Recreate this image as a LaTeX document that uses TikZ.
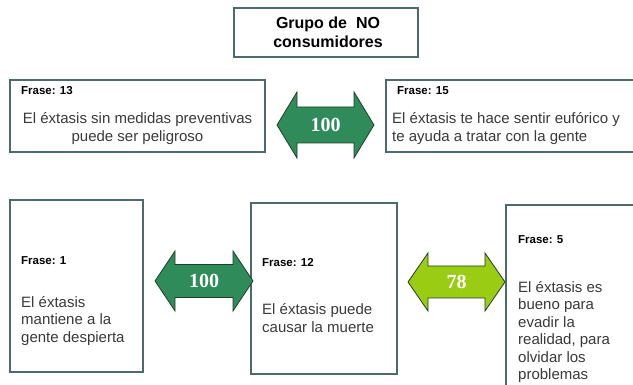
\documentclass[tikz,border=0pt]{standalone}
\usepackage{fontspec}
\setmainfont{Liberation Sans}
\newfontfamily\numfont{Liberation Serif}
\definecolor{boxline}{HTML}{4E6A6A}
\definecolor{arrowdark}{HTML}{2F8B5A}
\definecolor{arrowlime}{HTML}{9ACC14}
\definecolor{arrowedge}{HTML}{1F3F2A}
\definecolor{textgray}{HTML}{3A3A3A}

\begin{document}
\begin{tikzpicture}[x=1pt,y=-1pt,
    frase/.style={draw=boxline, line width=1.3pt, fill=white},
    tag/.style={font=\bfseries\fontsize{11.5}{13}\selectfont, anchor=west, inner sep=0pt},
    body/.style={font=\fontsize{15}{17.5}\selectfont, text=textgray, inner sep=0pt},
    num/.style={font=\numfont\bfseries\fontsize{20}{20}\selectfont, text=white, inner sep=0pt}]
    \useasboundingbox (0,0) rectangle (633,385);
    \clip (0,0) rectangle (633,385);

    % title
    \draw[frase, line width=1.5pt] (234,8) rectangle (418,57);
    \node[font=\bfseries\fontsize{16}{19}\selectfont, align=center] (title) at (328,32.5) {Grupo de\ \ NO\\consumidores};

    % top row
    \draw[frase] (10,80) rectangle (265,152);
    \node[tag] (t13) at (21,91) {Frase: 13};
    \node[body, align=center] (f13) at (137.5,128.5) {El éxtasis sin medidas preventivas\\puede ser peligroso};

    \draw[frase] (386,80) rectangle (660,152);
    \node[tag] (t15) at (397,91) {Frase: 15};
    \node[body, align=left, anchor=west] (f15) at (392,128.5) {El éxtasis te hace sentir eufórico y\\te ayuda a tratar con la gente};

    \filldraw[fill=arrowdark, draw=arrowedge, line width=0.8pt] (277,125) -- (297,92) -- (297,107) -- (354,107)
        -- (354,92) -- (374,125) -- (354,158) -- (354,143) -- (297,143) -- (297,158) -- cycle;
    \node[num] (a1) at (325.5,125) {100};

    % bottom row
    \draw[frase] (10,200) rectangle (143,372);
    \node[tag] (t1) at (21,261) {Frase: 1};
    \node[body, align=left, anchor=west] (f1) at (21,321) {El éxtasis\\mantiene a la\\gente despierta};

    \draw[frase] (251,203) rectangle (397,374);
    \node[tag] (t12) at (262,263) {Frase: 12};
    \node[body, align=left, anchor=west] (f12) at (262,318) {El éxtasis puede\\causar la muerte};

    \draw[frase] (506,205) rectangle (660,400);
    \node[tag] (t5) at (518,240) {Frase: 5};
    \node[body, align=left, anchor=north west] (f5) at (518,281) {El éxtasis es\\bueno para\\evadir la\\realidad, para\\olvidar los\\problemas};

    \filldraw[fill=arrowdark, draw=arrowedge, line width=0.8pt] (155,281) -- (175,251) -- (175,264.5) -- (233,264.5)
        -- (233,251) -- (253,281) -- (233,311) -- (233,297.5) -- (175,297.5) -- (175,311) -- cycle;
    \node[num] (a2) at (204,281) {100};

    \filldraw[fill=arrowlime, draw=arrowedge, line width=0.8pt] (408,282) -- (428,253) -- (428,266) -- (485,266)
        -- (485,253) -- (505,282) -- (485,311) -- (485,298) -- (428,298) -- (428,311) -- cycle;
    \node[num] (a3) at (456.5,282) {78};
\end{tikzpicture}
\end{document}
